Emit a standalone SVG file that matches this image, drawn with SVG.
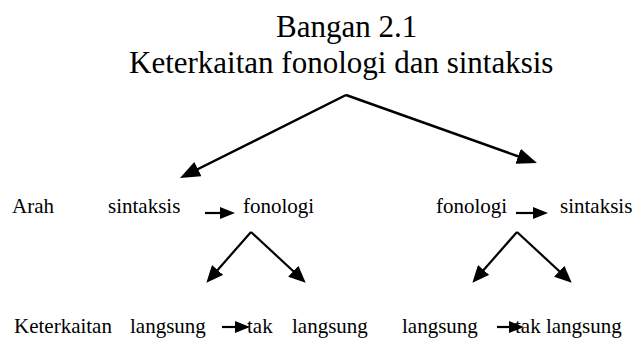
<svg xmlns="http://www.w3.org/2000/svg" width="634" height="338" viewBox="0 0 634 338">
<style>
.t{font-family:'Liberation Serif','Times New Roman',serif;font-size:31px;fill:#000}
.n{font-family:'Liberation Serif','Times New Roman',serif;font-size:21px;fill:#000}
.c{stroke:#000;fill:none}
.big{stroke-width:2.5}
.sm{stroke-width:2.2}
</style>
<defs>
<marker id="ab" markerUnits="userSpaceOnUse" markerWidth="20" markerHeight="16" refX="2" refY="8" orient="auto"><path d="M0,0 L20,8 L0,16 z" fill="#000"/></marker>
<marker id="as" markerUnits="userSpaceOnUse" markerWidth="17" markerHeight="15" refX="2" refY="7.5" orient="auto"><path d="M0,0 L17,7.5 L0,15 z" fill="#000"/></marker>
<marker id="ah" markerUnits="userSpaceOnUse" markerWidth="15" markerHeight="12" refX="2" refY="6" orient="auto"><path d="M0,0 L15,6 L0,12 z" fill="#000"/></marker>
</defs>
<g id="title">
<text class="t" x="276" y="37">Bangan 2.1</text>
<text class="t" x="129" y="73">Keterkaitan fonologi dan sintaksis</text>
</g>
<g id="row-arah"><text class="n" x="12" y="213">Arah</text></g>
<g id="arah-kiri-sintaksis"><text class="n" x="108" y="213">sintaksis</text></g>
<g id="arah-kiri-fonologi"><text class="n" x="243" y="213">fonologi</text></g>
<g id="arah-kanan-fonologi"><text class="n" x="436" y="213">fonologi</text></g>
<g id="arah-kanan-sintaksis"><text class="n" x="560" y="213">sintaksis</text></g>
<g id="row-keterkaitan"><text class="n" x="14" y="333">Keterkaitan</text></g>
<g id="kiri-langsung"><text class="n" x="130" y="333">langsung</text></g>
<g id="kiri-tak-langsung"><text class="n" x="247" y="333">tak</text><text class="n" x="292" y="333">langsung</text></g>
<g id="kanan-langsung"><text class="n" x="402" y="333">langsung</text></g>
<g id="kanan-tak-langsung"><text class="n" x="515" y="333">tak langsung</text></g>
<g id="connectors">
<line class="c big" x1="346" y1="95" x2="196.1" y2="170" marker-end="url(#ab)"/>
<line class="c big" x1="346" y1="95" x2="520" y2="157" marker-end="url(#ab)"/>
<line class="c sm" x1="251" y1="232" x2="216.3" y2="271.5" marker-end="url(#as)"/>
<line class="c sm" x1="251" y1="232" x2="294.7" y2="272.5" marker-end="url(#as)"/>
<line class="c sm" x1="517" y1="232" x2="482.3" y2="271.5" marker-end="url(#as)"/>
<line class="c sm" x1="517" y1="232" x2="560.7" y2="272.5" marker-end="url(#as)"/>
<line class="c sm" x1="205" y1="213" x2="222" y2="213" marker-end="url(#ah)"/>
<line class="c sm" x1="516" y1="213" x2="535" y2="213" marker-end="url(#ah)"/>
<line class="c sm" x1="222" y1="327" x2="237" y2="327" marker-end="url(#ah)"/>
<line class="c sm" x1="497" y1="327" x2="511" y2="327" marker-end="url(#ah)"/>
</g>
</svg>
